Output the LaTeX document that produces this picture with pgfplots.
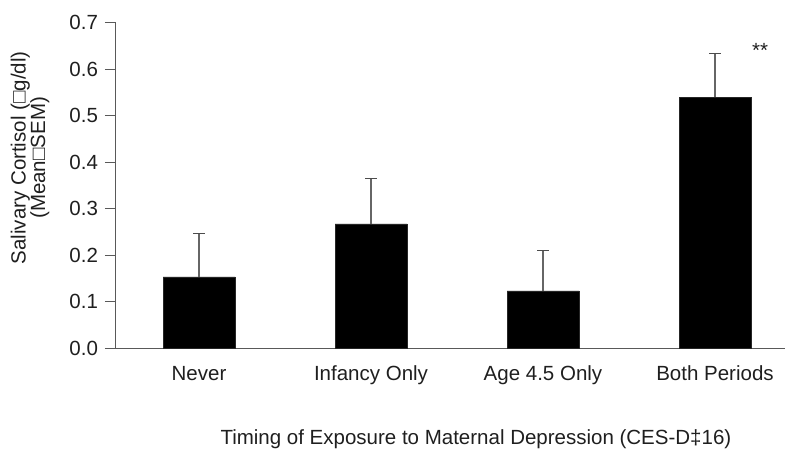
\documentclass[border=0pt]{standalone}
\usepackage{fontspec}
\setmainfont{Liberation Sans}
\usepackage{pgfplots}
\pgfplotsset{compat=1.18}
\begin{document}
\fontsize{20.5}{20}\selectfont
\begin{tikzpicture}
\begin{axis}[
  at={(0pt,0pt)}, anchor=south west,
  scale only axis, width=669pt, height=325.5pt,
  xmin=-0.4826, xmax=3.407, ymin=0, ymax=0.7,
  axis x line=bottom, axis y line=left,
  x axis line style={-, draw=black!65, line width=1pt},
  y axis line style={-, draw=black!65, line width=1pt},
  xtick={0,1,2,3},
  xticklabels={Never, Infancy Only, Age 4.5 Only, Both Periods},
  x tick style={draw=none},
  ytick={0,0.1,0.2,0.3,0.4,0.5,0.6,0.7},
  y tick style={draw=black!65, line width=0.9pt},
  tick align=outside, major tick length=11pt,
  /pgf/number format/.cd, assume math mode=true, fixed, fixed zerofill, precision=1,
  /pgfplots/.cd,
  tick label style={font=\fontsize{20.5}{20}\selectfont, text=black!88},
  ylabel={Salivary Cortisol (□g/dl)\\(Mean□SEM)},
  ylabel style={at={(axis description cs:-0.1286,0.584)}, anchor=center, rotate=0, align=center, font=\fontsize{20.5}{19.5}\selectfont, text=black!88},
  xlabel={Timing of Exposure to Maternal Depression (CES-D‡16)},
  xlabel style={at={(axis description cs:0.538,-0.295)}, anchor=base, font=\fontsize{20.5}{20}\selectfont, text=black!88},
  clip=false,
]
\addplot[ybar, bar width=0.4186, fill=black, draw=black!85, line width=0.6pt,
  error bars/.cd, y dir=plus, y explicit,
  error bar style={draw=black!60, line width=1.2pt},
  error mark options={rotate=90, mark size=6pt, draw=black!70, line width=1.2pt}]
  table[x=x, y=y, y error=e] {
x y e
0 0.153 0.093
1 0.267 0.098
2 0.123 0.086
3 0.539 0.095
};
\node[font=\fontsize{20.5}{20}\selectfont, text=black!88] at (axis cs:3.262,0.640) {**};
\end{axis}
\pgfresetboundingbox
\path[use as bounding box] (-116pt,-102pt) rectangle (669pt,348pt);
\end{tikzpicture}
\end{document}
